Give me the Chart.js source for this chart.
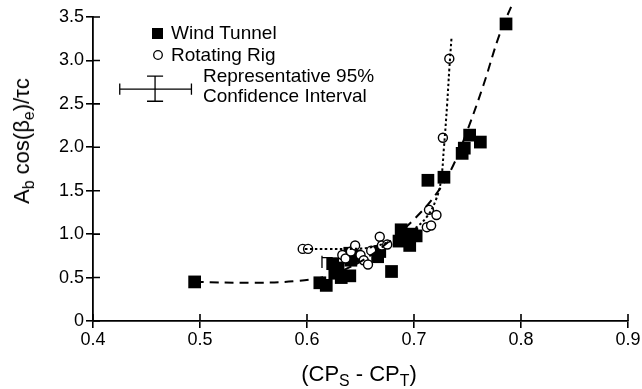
<!DOCTYPE html>
<html>
<head>
<meta charset="utf-8">
<script src="https://cdn.jsdelivr.net/npm/chart.js@4/dist/chart.umd.min.js"></script>
<style>
  body { margin: 0; background: #fff; }
  #wrap { position: relative; width: 642px; height: 389px; font-family: "Liberation Sans", Arial, sans-serif; color: #000; }
  #wrap canvas { position: absolute; left: 0; top: 0; }
  .lbl { position: absolute; white-space: nowrap; line-height: 1; }
  .lbl sub { font-size: 72%; vertical-align: -0.3em; line-height: 0; }
  #ytitle { left: 22px; top: 141px; font-size: 22px; transform: translate(-50%, -50%) rotate(-90deg); }
  #xtitle { left: 359px; top: 374px; font-size: 22px; transform: translate(-50%, -50%); }
  .leg { font-size: 19px; }
</style>
</head>
<body>
<div id="wrap">
  <canvas id="chart" width="642" height="389"></canvas>
  <div class="lbl" id="ytitle">A<sub>b</sub> cos(β<sub>e</sub>)/τc</div>
  <div class="lbl" id="xtitle">(CP<sub>S</sub> - CP<sub>T</sub>)</div>
  <div class="lbl leg" style="left:171px; top:23px;">Wind Tunnel</div>
  <div class="lbl leg" style="left:171px; top:45px;">Rotating Rig</div>
  <div class="lbl leg" style="left:203px; top:66px;">Representative 95%</div>
  <div class="lbl leg" style="left:203px; top:86px;">Confidence Interval</div>
</div>
<script>
// Mittausdata luettu kuvasta
const windX = [0.495, 0.612, 0.618, 0.626, 0.624, 0.629, 0.632, 0.640, 0.641, 0.645, 0.640,
  0.668, 0.666, 0.679, 0.686, 0.688, 0.692, 0.696, 0.698, 0.702, 0.713, 0.728, 0.745, 0.747,
  0.752, 0.762, 0.786];
const windY = [0.45, 0.44, 0.41, 0.55, 0.66, 0.61, 0.50, 0.52, 0.70, 0.75, 0.78,
  0.80, 0.74, 0.57, 0.92, 1.05, 0.97, 0.87, 1.00, 0.98, 1.62, 1.655, 1.93, 1.99,
  2.14, 2.06, 3.42];

const rigX = [0.596, 0.601, 0.633, 0.636, 0.641, 0.645, 0.650, 0.653, 0.657, 0.660, 0.668,
  0.670, 0.675, 0.712, 0.716, 0.714, 0.721, 0.727, 0.733];
const rigY = [0.83, 0.83, 0.76, 0.72, 0.80, 0.87, 0.76, 0.70, 0.65, 0.81, 0.97,
  0.87, 0.88, 1.08, 1.10, 1.28, 1.22, 2.11, 3.02];

// Sovituskäyrät
const windFitX = [0.495, 0.55, 0.59, 0.62, 0.64, 0.66, 0.68, 0.70, 0.72, 0.735, 0.75, 0.765, 0.78, 0.793];
const windFitY = [0.45, 0.44, 0.46, 0.52, 0.62, 0.76, 0.95, 1.17, 1.45, 1.75, 2.20, 2.72, 3.30, 3.68];

const rigFitX = [0.598, 0.62, 0.64, 0.66, 0.68, 0.70, 0.712, 0.72, 0.725, 0.728, 0.731, 0.733, 0.735];
const rigFitY = [0.83, 0.83, 0.83, 0.85, 0.93, 1.06, 1.20, 1.38, 1.60, 2.00, 2.50, 2.90, 3.25];

// Edustava 95 % luottamusväli (selitteessä)
const ciX = [0.425, 0.458, 0.492];
const ciY = [2.53, 2.67, 2.82];
const ciCapX = 0.0075;
const ciCapY = 0.065;

// Pieni virhepalkin pää klusterissa
const barX = [0.614, 0.624];
const barY = [0.61, 0.75];

const xTicks = [0.4, 0.5, 0.6, 0.7, 0.8, 0.9];
const yTicks = [0, 0.5, 1.0, 1.5, 2.0, 2.5, 3.0, 3.5];

function toPoints(xs, ys) {
  return xs.map((x, i) => ({ x: x, y: ys[i] }));
}

function ciSegments() {
  const g = { x: NaN, y: null };
  return [
    { x: ciX[0], y: ciY[1] }, { x: ciX[2], y: ciY[1] }, g,
    { x: ciX[0], y: ciY[1] - ciCapY }, { x: ciX[0], y: ciY[1] + ciCapY }, g,
    { x: ciX[2], y: ciY[1] - ciCapY }, { x: ciX[2], y: ciY[1] + ciCapY }, g,
    { x: ciX[1], y: ciY[0] }, { x: ciX[1], y: ciY[2] }, g,
    { x: ciX[1] - ciCapX, y: ciY[0] }, { x: ciX[1] + ciCapX, y: ciY[0] }, g,
    { x: ciX[1] - ciCapX, y: ciY[2] }, { x: ciX[1] + ciCapX, y: ciY[2] }
  ];
}

function barSegments() {
  const g = { x: NaN, y: null };
  return [
    { x: barX[0], y: barY[0] }, { x: barX[0], y: barY[1] }, g,
    { x: barX[0], y: barY[1] - 0.02 }, { x: barX[1], y: barY[1] - 0.02 }
  ];
}

// Sisäänpäin osoittavat tikit ja selitteen merkit
const extras = {
  id: 'extras',
  afterDraw(chart) {
    const ctx = chart.ctx;
    const xs = chart.scales.x, ys = chart.scales.y;
    const a = chart.chartArea;
    ctx.save();
    ctx.strokeStyle = '#000';
    ctx.lineWidth = 1.6;
    ctx.beginPath();
    xTicks.forEach(v => {
      const px = xs.getPixelForValue(v);
      ctx.moveTo(px, a.bottom);
      ctx.lineTo(px, a.bottom - 7);
    });
    yTicks.forEach(v => {
      const py = ys.getPixelForValue(v);
      ctx.moveTo(a.left, py);
      ctx.lineTo(a.left + 7, py);
    });
    ctx.stroke();
    // selitteen merkit
    ctx.fillStyle = '#000';
    ctx.fillRect(152, 28, 11, 11);
    ctx.beginPath();
    ctx.arc(158, 55, 4.3, 0, Math.PI * 2);
    ctx.lineWidth = 1.3;
    ctx.stroke();
    ctx.restore();
  }
};

new Chart(document.getElementById('chart'), {
  type: 'scatter',
  data: {
    datasets: [
      {
        label: 'Wind fit',
        data: toPoints(windFitX, windFitY),
        showLine: true,
        borderColor: '#000',
        borderWidth: 2,
        borderDash: [9, 6],
        pointRadius: 0,
        tension: 0.4,
        clip: false
      },
      {
        label: 'Rig fit',
        data: toPoints(rigFitX, rigFitY),
        showLine: true,
        borderColor: '#000',
        borderWidth: 2,
        borderDash: [2.5, 2.5],
        pointRadius: 0,
        tension: 0.4,
        clip: false
      },
      {
        label: 'Rotating Rig',
        data: toPoints(rigX, rigY),
        pointStyle: 'circle',
        pointRadius: 4.5,
        pointBackgroundColor: '#fff',
        pointBorderColor: '#000',
        pointBorderWidth: 1.4
      },
      {
        label: 'Wind Tunnel',
        data: toPoints(windX, windY),
        pointStyle: 'rect',
        pointRadius: 9,
        pointBackgroundColor: '#000',
        pointBorderColor: '#000',
        pointBorderWidth: 0
      },
      {
        label: 'CI',
        data: ciSegments(),
        showLine: true,
        spanGaps: false,
        borderColor: '#000',
        borderWidth: 1.3,
        pointRadius: 0,
        clip: false
      },
      {
        label: 'bar',
        data: barSegments(),
        showLine: true,
        spanGaps: false,
        borderColor: '#000',
        borderWidth: 1.3,
        pointRadius: 0
      }
    ]
  },
  options: {
    responsive: false,
    animation: false,
    events: [],
    layout: { padding: { left: 0, right: 14, top: 17, bottom: 0 } },
    plugins: { legend: { display: false }, tooltip: { enabled: false } },
    scales: {
      x: {
        type: 'linear',
        min: 0.4,
        max: 0.9,
        afterBuildTicks: (s) => { s.ticks = xTicks.map(v => ({ value: v })); },
        afterFit: (s) => { s.height = 68; },
        border: { color: '#000', width: 1.8 },
        grid: { drawOnChartArea: false, color: '#000', lineWidth: 1.6, tickLength: 7 },
        ticks: {
          color: '#000',
          padding: 1,
          maxRotation: 0,
          font: { family: 'Liberation Sans', size: 18 },
          callback: (v) => v.toFixed(1)
        }
      },
      y: {
        type: 'linear',
        min: 0,
        max: 3.5,
        afterBuildTicks: (s) => { s.ticks = yTicks.map(v => ({ value: v })); },
        afterFit: (s) => { s.width = 93; },
        border: { color: '#000', width: 1.8 },
        grid: { drawOnChartArea: false, color: '#000', lineWidth: 1.6, tickLength: 7 },
        ticks: {
          color: '#000',
          padding: 2,
          font: { family: 'Liberation Sans', size: 18 },
          callback: (v) => v === 0 ? '0' : v.toFixed(1)
        }
      }
    }
  },
  plugins: [extras]
});
</script>
</body>
</html>
